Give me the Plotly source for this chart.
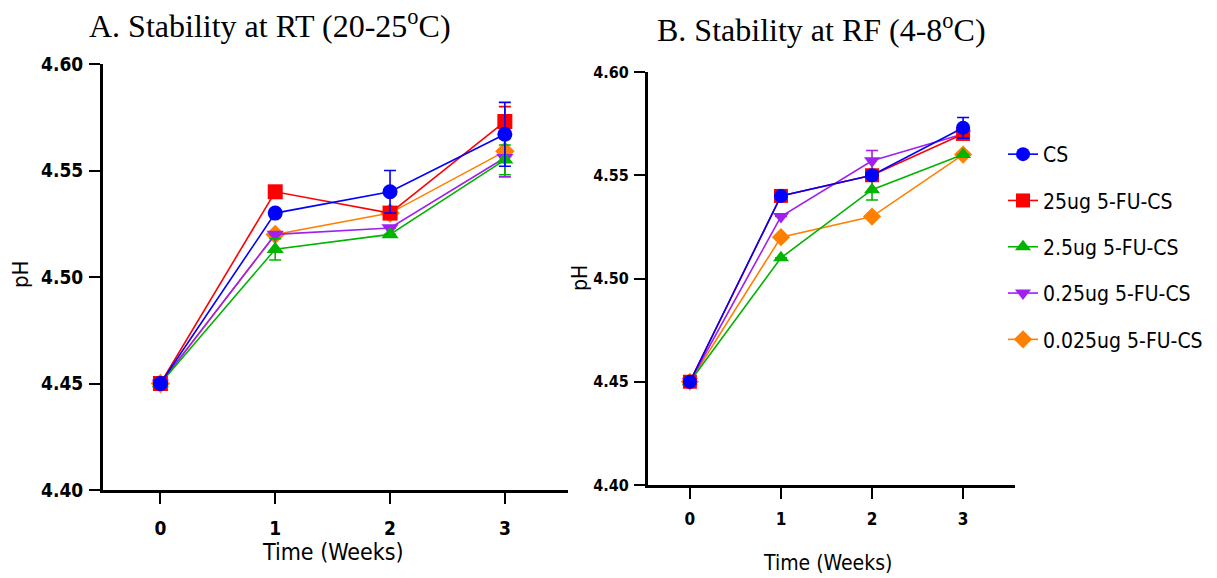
import plotly.graph_objects as go

weeks = [0, 1, 2, 3]
series_names = ["CS", "25ug 5-FU-CS", "2.5ug 5-FU-CS", "0.25ug 5-FU-CS", "0.025ug 5-FU-CS"]
colors = ["#0000FF", "#FF0000", "#00B400", "#A020F0", "#FF8000"]
symbols = ["circle", "square", "triangle-up", "triangle-down", "diamond"]

# Panel A: room temperature
rt_cs = [4.45, 4.530, 4.540, 4.567]
rt_25 = [4.45, 4.540, 4.530, 4.573]
rt_2_5 = [4.45, 4.513, 4.520, 4.555]
rt_0_25 = [4.45, 4.520, 4.523, 4.556]
rt_0_025 = [4.45, 4.520, 4.530, 4.559]
rt_err_cs = [0, 0, 0.010, 0.015]
rt_err_25 = [0, 0, 0, 0.007]
rt_err_2_5 = [0, 0.005, 0, 0.007]
rt_err_0_25 = [0, 0, 0, 0.009]
rt_err_0_025 = [0, 0, 0, 0]

# Panel B: refrigerator
rf_cs = [4.45, 4.540, 4.550, 4.573]
rf_25 = [4.45, 4.540, 4.550, 4.570]
rf_2_5 = [4.45, 4.510, 4.543, 4.560]
rf_0_25 = [4.45, 4.530, 4.557, 4.570]
rf_0_025 = [4.45, 4.520, 4.530, 4.560]
rf_err_cs = [0, 0, 0, 0.005]
rf_err_25 = [0, 0, 0, 0]
rf_err_2_5 = [0, 0, 0.005, 0]
rf_err_0_25 = [0, 0, 0.005, 0]
rf_err_0_025 = [0, 0, 0, 0]

y_ticks = [4.40, 4.45, 4.50, 4.55, 4.60]
y_ticktext = ["4.40", "4.45", "4.50", "4.55", "4.60"]

W, H = 1217, 578
NARROW = "DejaVu Sans Condensed, Liberation Sans Narrow, Arial Narrow, sans-serif"
SERIF = "Liberation Serif, Times New Roman, serif"

fig = go.Figure()

panels = [
    ("x", "y", [rt_cs, rt_25, rt_2_5, rt_0_25, rt_0_025],
     [rt_err_cs, rt_err_25, rt_err_2_5, rt_err_0_25, rt_err_0_025], False, 15),
    ("x2", "y2", [rf_cs, rf_25, rf_2_5, rf_0_25, rf_0_025],
     [rf_err_cs, rf_err_25, rf_err_2_5, rf_err_0_25, rf_err_0_025], True, 14),
]
draw_order = [4, 3, 2, 1, 0]
for xa, ya, vals, errs, showleg, msize in panels:
    for i in draw_order:
        fig.add_trace(go.Scatter(
            x=weeks, y=vals[i], xaxis=xa, yaxis=ya,
            mode="lines+markers", name=series_names[i],
            line=dict(color=colors[i], width=1.6),
            marker=dict(symbol=symbols[i], size=msize, color=colors[i]),
            error_y=dict(type="data", array=errs[i], visible=True,
                         color=colors[i], thickness=1.6, width=6),
            showlegend=showleg, legendrank=i + 1, legendgroup=f"g{i}",
        ))

def axis_common(fsize):
    return dict(
        showline=True, linecolor="black", linewidth=3, mirror=False,
        ticks="outside", tickcolor="black", tickwidth=2, ticklen=11,
        showgrid=False, zeroline=False,
        tickfont=dict(family=NARROW, size=fsize, color="black", weight="bold"),
    )

fig.update_layout(
    width=W, height=H,
    margin=dict(l=0, r=0, t=0, b=0, autoexpand=False),
    paper_bgcolor="white", plot_bgcolor="white",
    showlegend=True,
    legend=dict(x=1003 / W, y=1 - 134 / H, xanchor="left", yanchor="top",
                font=dict(family=NARROW, size=21, color="black"),
                tracegroupgap=16, bgcolor="rgba(0,0,0,0)"),
    xaxis=dict(domain=[103 / W, 568 / W], range=[-0.5, 3.55], anchor="y",
               tickvals=weeks, ticklabelstandoff=8, **axis_common(19)),
    yaxis=dict(domain=[1 - 490 / H, 1 - 64 / H], range=[4.40, 4.60], anchor="x",
               tickvals=y_ticks, ticktext=y_ticktext, ticklabelstandoff=2, **axis_common(19)),
    xaxis2=dict(domain=[648 / W, 1015 / W], range=[-0.46, 3.57], anchor="y2",
                tickvals=weeks, ticklabelstandoff=6, **axis_common(17)),
    yaxis2=dict(domain=[1 - 485 / H, 1 - 72 / H], range=[4.40, 4.60], anchor="x2",
                tickvals=y_ticks, ticktext=y_ticktext, ticklabelstandoff=2, **axis_common(16)),
)

annotations = [
    dict(text="A. Stability at RT (20-25<sup>o</sup>C)", x=270 / W, y=1 - 24 / H,
         font=dict(family=SERIF, size=32, color="black")),
    dict(text="B. Stability at RF (4-8<sup>o</sup>C)", x=821 / W, y=1 - 28 / H,
         font=dict(family=SERIF, size=32, color="black")),
    dict(text="Time (Weeks)", x=333 / W, y=1 - 552 / H,
         font=dict(family=NARROW, size=23, color="black")),
    dict(text="Time (Weeks)", x=827 / W, y=1 - 563 / H,
         font=dict(family=NARROW, size=21, color="black")),
    dict(text="pH", x=20 / W, y=1 - 275 / H, textangle=-90,
         font=dict(family=NARROW, size=22, color="black")),
    dict(text="pH", x=580 / W, y=1 - 278 / H, textangle=-90,
         font=dict(family=NARROW, size=21, color="black")),
]
for a in annotations:
    a.update(xref="paper", yref="paper", showarrow=False, xanchor="center", yanchor="middle")
fig.update_layout(annotations=annotations)

fig.write_html("out.html")
